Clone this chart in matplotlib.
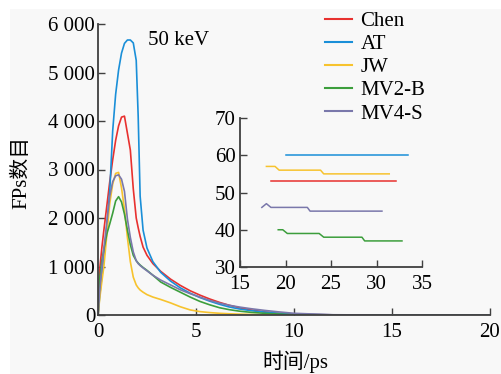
import matplotlib
matplotlib.use("Agg")
import matplotlib.pyplot as plt
from matplotlib.ticker import FuncFormatter, MultipleLocator
from matplotlib.patches import Rectangle

plt.rcParams['font.family'] = ['Liberation Serif', 'Noto Sans CJK SC']
plt.rcParams['mathtext.fontset'] = 'stix'

# ---- main data (time in ps, FPs count) ----
time = [0, 0.1, 0.2, 0.3, 0.45, 0.6, 0.75, 0.9, 1.05, 1.2, 1.35, 1.5, 1.65, 1.8,
        1.95, 2.05, 2.15, 2.3, 2.5, 2.8, 3.2, 3.7, 4.2, 4.7, 5.2, 5.7, 6.2, 6.7,
        7.2, 7.8, 8.5, 9.2, 10, 12, 14, 16, 18, 20]
chen = [0, 1000, 1400, 1750, 2250, 2750, 3200, 3600, 3900, 4080, 4100, 3750, 3400, 2600,
        2000, 1800, 1620, 1400, 1230, 1060, 900, 740, 610, 500, 410, 330, 260, 200,
        150, 105, 65, 35, 12, 3, 0, 0, 0, 0]
at = [0, 450, 800, 1150, 1850, 2550, 3800, 4550, 5050, 5400, 5600, 5670, 5670, 5610,
      5250, 4100, 2450, 1750, 1380, 1100, 880, 700, 560, 450, 360, 285, 220, 165,
      125, 90, 60, 35, 12, 3, 0, 0, 0, 0]
jw = [0, 380, 700, 1000, 1650, 2300, 2700, 2920, 2940, 2620, 2180, 1600, 1100, 780,
      620, 560, 515, 470, 420, 370, 320, 250, 170, 105, 70, 50, 35, 25,
      18, 12, 7, 4, 2, 0, 0, 0, 0, 0]
mv2b = [0, 800, 1130, 1350, 1670, 1880, 2100, 2350, 2440, 2330, 2080, 1750, 1450, 1230,
        1120, 1070, 1030, 980, 920, 820, 680, 570, 470, 370, 280, 210, 150, 110,
        80, 55, 35, 20, 8, 2, 0, 0, 0, 0]
mv4s = [0, 550, 1000, 1380, 1900, 2450, 2750, 2870, 2890, 2800, 2550, 1980, 1600, 1300,
        1120, 1060, 1020, 970, 910, 820, 720, 620, 520, 440, 370, 300, 245, 200,
        165, 130, 95, 65, 35, 5, 0, 0, 0, 0]

# ---- inset data ----
inset_at_t = [20.0, 33.5]
inset_at = [60, 60]
inset_chen_t = [18.4, 32.1]
inset_chen = [53, 53]
inset_jw_t = [17.9, 18.85, 19.3, 23.85, 24.2, 31.4]
inset_jw = [57, 57, 56, 56, 55, 55]
inset_mv4_t = [17.4, 17.9, 18.4, 22.4, 22.7, 30.6]
inset_mv4 = [46, 47, 46, 46, 45, 45]
inset_mv2_t = [19.2, 19.7, 20.2, 23.7, 24.2, 28.4, 28.7, 32.8]
inset_mv2 = [40, 40, 39, 39, 38, 38, 37, 37]

labels = ["Chen", "AT", "JW", "MV2-B", "MV4-S"]
colors = ["#e8312f", "#1a8fd8", "#f7c32e", "#3c9e3c", "#7a78ab"]

FS = 15
W, H = 502, 374
fig = plt.figure(figsize=(W / 100, H / 100), dpi=100, facecolor='white')
fig.patches.append(Rectangle((10 / W, 0), 1, 1 - 9 / H, transform=fig.transFigure,
                             facecolor='#f8f8f8', edgecolor='none', zorder=-10))

ax = fig.add_axes([98 / W, 1 - 315 / H, 392 / W, 291 / H])
ax.patch.set_alpha(0)
series = [chen, at, jw, mv2b, mv4s]
for ys, lab, c in zip(series, labels, colors):
    ax.plot(time, ys, color=c, lw=1.2, label=lab)

ax.set_xlim(0, 20)
ax.set_ylim(0, 6000)
ax.xaxis.set_major_locator(MultipleLocator(5))
ax.yaxis.set_major_locator(MultipleLocator(1000))
ax.yaxis.set_major_formatter(FuncFormatter(lambda v, p: f"{int(v):,}".replace(",", " ")))
for s in ['top', 'right']:
    ax.spines[s].set_visible(False)
for s in ['left', 'bottom']:
    ax.spines[s].set_color('#404040')
    ax.spines[s].set_linewidth(1.3)
ax.tick_params(axis='both', direction='in', length=5, width=1.0, color='#404040',
               labelsize=FS)
ax.tick_params(axis='y', pad=2)
ax.tick_params(axis='x', pad=6)

ax.text(0.128, 0.945, "50 keV", transform=ax.transAxes, fontsize=FS,
        ha='left', va='center')

fig.text(22 / W, 1 - 172 / H, "FPs数目", rotation=90, fontsize=FS,
         ha='center', va='center')
fig.text(295 / W, 1 - 362 / H, "时间/ps", fontsize=FS, ha='center', va='center')

leg = fig.legend(loc='upper left', bbox_to_anchor=(325 / W, 1 - 11.5 / H),
                 frameon=False, fontsize=FS, handlelength=1.3, handletextpad=0.4,
                 labelspacing=0.17, borderpad=0, borderaxespad=0)
for line in leg.get_lines():
    line.set_linewidth(1.5)

# ---- inset ----
ins = fig.add_axes([240 / W, 1 - 267 / H, 182 / W, 149 / H])
ins.patch.set_alpha(0)
inset_t = [inset_chen_t, inset_at_t, inset_jw_t, inset_mv2_t, inset_mv4_t]
inset_v = [inset_chen, inset_at, inset_jw, inset_mv2, inset_mv4]
for tt, vv, c in zip(inset_t, inset_v, colors):
    ins.plot(tt, vv, color=c, lw=1.1)
ins.set_xlim(15, 35)
ins.set_ylim(30, 70)
ins.xaxis.set_major_locator(MultipleLocator(5))
ins.yaxis.set_major_locator(MultipleLocator(10))
for s in ['top', 'right']:
    ins.spines[s].set_visible(False)
for s in ['left', 'bottom']:
    ins.spines[s].set_color('#404040')
    ins.spines[s].set_linewidth(1.3)
ins.tick_params(axis='both', direction='in', length=5, width=1.0, color='#404040',
                labelsize=FS)
ins.tick_params(axis='y', pad=3)
ins.tick_params(axis='x', pad=6)

fig.savefig("out.png", dpi=100, facecolor=fig.get_facecolor())
